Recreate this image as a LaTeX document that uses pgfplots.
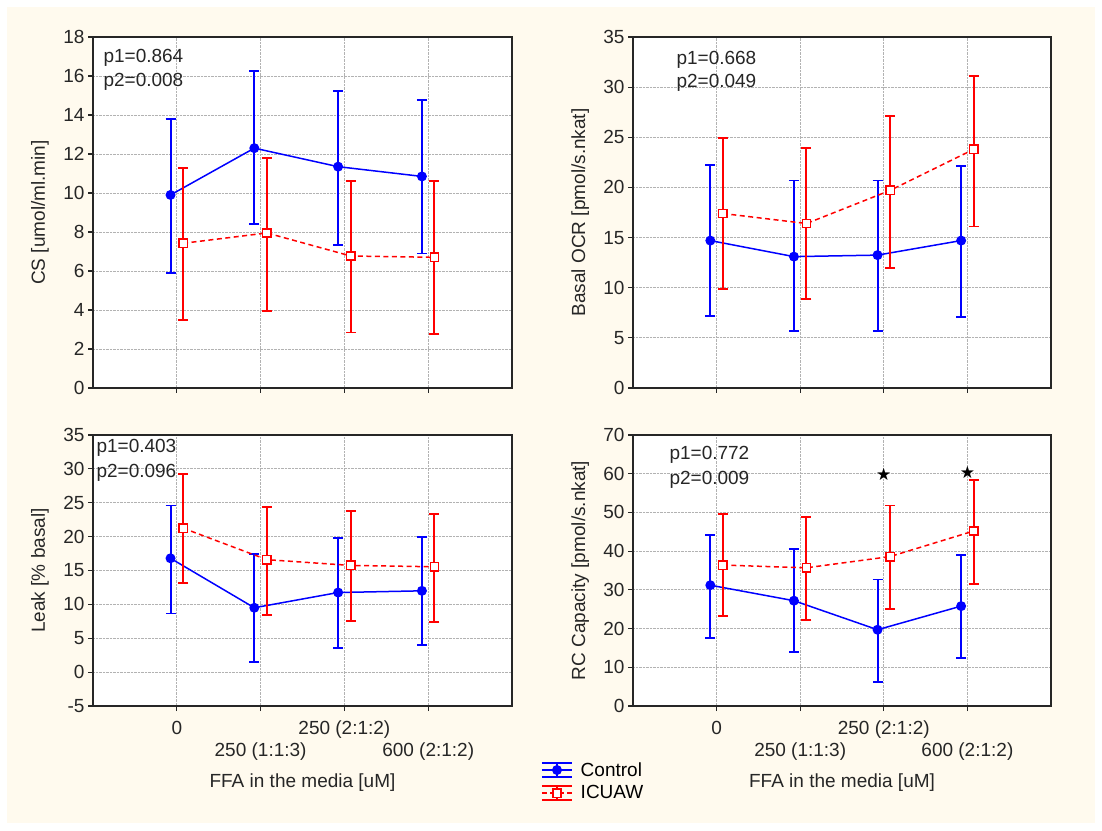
\documentclass[border=0pt]{standalone}
\usepackage{fontspec}
\setmainfont{Liberation Sans}
\newfontfamily\dejavu{DejaVu Sans}
\usepackage{pgfplots}
\usepackage{pgfplotstable}
\pgfplotsset{compat=1.18}

\definecolor{cream}{HTML}{FFFAEE}

% x y ep em  (control shifted left, ICUAW shifted right of each category)
\pgfplotstableread{
x y ep em
0.925 9.90 3.90 4.00
1.925 12.30 3.95 3.90
2.925 11.35 3.90 4.00
3.925 10.85 3.90 3.95
}\csctrl
\pgfplotstableread{
x y ep em
1.075 7.42 3.86 3.92
2.075 7.95 3.85 4.02
3.075 6.77 3.86 3.92
4.075 6.70 3.93 3.93
}\csicu
\pgfplotstableread{
x y ep em
0.925 14.70 7.50 7.50
1.925 13.10 7.60 7.45
2.925 13.25 7.45 7.60
3.925 14.70 7.40 7.60
}\ocrctrl
\pgfplotstableread{
x y ep em
1.075 17.40 7.50 7.50
2.075 16.40 7.50 7.50
3.075 19.70 7.45 7.70
4.075 23.80 7.30 7.70
}\ocricu
\pgfplotstableread{
x y ep em
0.925 16.80 7.80 8.15
1.925 9.50 7.90 8.00
2.925 11.75 8.05 8.15
3.925 12.00 8.00 8.00
}\leakctrl
\pgfplotstableread{
x y ep em
1.075 21.25 8.05 8.05
2.075 16.60 7.75 8.15
3.075 15.75 8.05 8.15
4.075 15.55 7.80 8.20
}\leakicu
\pgfplotstableread{
x y ep em
0.925 31.20 12.90 13.60
1.925 27.20 13.30 13.20
2.925 19.70 13.00 13.50
3.925 25.80 13.20 13.40
}\rcctrl
\pgfplotstableread{
x y ep em
1.075 36.40 13.20 13.20
2.075 35.70 13.20 13.40
3.075 38.60 13.20 13.60
4.075 45.20 13.20 13.60
}\rcicu

\newcommand{\fs}{\fontsize{19}{22}\selectfont}

\pgfplotsset{
  panel/.style={
    scale only axis, width=419pt,
    xmin=0, xmax=5, xtick={1,2,3,4},
    grid=major, grid style={densely dotted, black!30, line width=0.8pt},
    axis line style={black!85, line width=1.4pt},
    tick align=outside, ytick pos=left, xtick pos=bottom,
    major tick length=5pt, tick style={black!85, line width=1.1pt},
    /pgf/number format/assume math mode=true,
    tick label style={font=\fs, black!85},
    label style={font=\fs, black!85},
    ylabel style={at={(axis description cs:-0.1265,0.5)}, anchor=center},
    xlabel style={at={(axis description cs:0.5,-0.284)}, anchor=center},
    axis background/.style={fill=white},
  },
  toprow/.style={panel, height=351pt, xticklabels={}},
  botrow/.style={panel, height=271pt,
    xticklabel style={align=center, font=\fontsize{19}{22}\selectfont, anchor=north, yshift=-5pt},
    xticklabels={{\strut 0},{\strut\\\strut 250 (1:1:3)},{\strut 250 (2:1:2)},{\strut\\\strut 600 (2:1:2)}},
    xlabel={FFA in the media [uM]}},
  ctrl/.style={color=blue, line width=1.5pt, mark=*, mark size=4.2pt, mark options={solid, fill=blue, draw=blue}},
  icu/.style={color=red, line width=1.5pt, dash pattern=on 5pt off 3.5pt, mark=square*, mark size=4.2pt, mark options={solid, fill=white, draw=red}},
  bars/.style={error bars/.cd, y dir=both, y explicit,
    error bar style={solid, line width=2pt, draw=#1},
    error mark options={rotate=90, mark size=5pt, solid, line width=1.8pt, draw=#1}},
  legend image code/.code={
    \draw[#1,solid,mark=none] (0pt,7pt) -- (30pt,7pt);
    \draw[#1,solid,mark=none] (0pt,-7pt) -- (30pt,-7pt);
    \draw[#1,solid,mark=none] (15pt,-7pt) -- (15pt,7pt);
    \draw[#1,mark=none] (0pt,0pt) -- (30pt,0pt);
    \draw[#1] plot coordinates {(15pt,0pt)};
  },
}

\begin{document}
\begin{tikzpicture}[x=1pt,y=1pt,font=\fs]
\fill[white] (0,0) rectangle (1102,830);
\fill[cream] (7,7) rectangle (1095,823);

% top left: CS
\begin{axis}[toprow, at={(93pt,442pt)}, anchor=south west,
  ymin=0, ymax=18, ytick={0,2,...,18}, ylabel={CS [umol/ml.min]}]
\addplot[ctrl, bars=blue] table[x=x, y=y, y error plus=ep, y error minus=em] {\csctrl};
\addplot[icu, bars=red] table[x=x, y=y, y error plus=ep, y error minus=em] {\csicu};
\end{axis}

% top right: Basal OCR
\begin{axis}[toprow, at={(633pt,442pt)}, anchor=south west, width=418pt,
  ymin=0, ymax=35, ytick={0,5,...,35}, ylabel={Basal OCR [pmol/s.nkat]}]
\addplot[ctrl, bars=blue] table[x=x, y=y, y error plus=ep, y error minus=em] {\ocrctrl};
\addplot[icu, bars=red] table[x=x, y=y, y error plus=ep, y error minus=em] {\ocricu};
\end{axis}

% bottom left: Leak
\begin{axis}[botrow, at={(93pt,124pt)}, anchor=south west,
  ymin=-5, ymax=35, ytick={-5,0,...,35}, ylabel={Leak [\% basal]}]
\addplot[ctrl, bars=blue] table[x=x, y=y, y error plus=ep, y error minus=em] {\leakctrl};
\addplot[icu, bars=red] table[x=x, y=y, y error plus=ep, y error minus=em] {\leakicu};
\end{axis}

% bottom right: RC capacity
\begin{axis}[botrow, at={(633pt,124pt)}, anchor=south west, width=418pt,
  ymin=0, ymax=70, ytick={0,10,...,70}, ylabel={RC Capacity [pmol/s.nkat]},
  legend style={at={(axis description cs:-0.22,-0.20)}, anchor=north west,
    draw=none, fill=none, inner sep=0pt, row sep=4pt, cells={anchor=west},
    nodes={inner xsep=8pt}, font=\fs}]
\addplot[ctrl, bars=blue] table[x=x, y=y, y error plus=ep, y error minus=em] {\rcctrl};
\addlegendentry{Control}
\addplot[icu, bars=red] table[x=x, y=y, y error plus=ep, y error minus=em] {\rcicu};
\addlegendentry{ICUAW}
\addplot[only marks, mark=text, text mark={\dejavu\fontsize{17}{17}\selectfont ★}, black, forget plot]
  coordinates {(3,59.7) (4,60.3)};
\end{axis}

% p-value annotations
\node[anchor=west, black!85] at (100,772) {p1=0.864};
\node[anchor=west, black!85] at (100,748) {p2=0.008};
\node[anchor=west, black!85] at (673,770) {p1=0.668};
\node[anchor=west, black!85] at (673,747) {p2=0.049};
\node[anchor=west, black!85] at (93,382) {p1=0.403};
\node[anchor=west, black!85] at (93,357) {p2=0.096};
\node[anchor=west, black!85] at (666,375) {p1=0.772};
\node[anchor=west, black!85] at (666,350) {p2=0.009};
\end{tikzpicture}
\end{document}
